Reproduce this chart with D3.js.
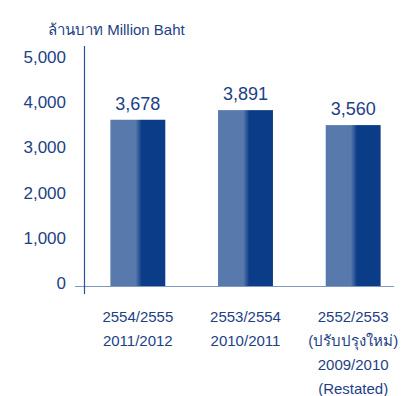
<!DOCTYPE html>
<html>
<head>
<meta charset="utf-8">
<script src="https://cdn.jsdelivr.net/npm/d3@7"></script>
<style>
  body { margin: 0; background: #fff; }
  text { font-family: "Liberation Sans", Arial, "Noto Sans", sans-serif; fill: #1d3f86; }
</style>
</head>
<body>
<div id="main"></div>
<script>
const categories = ["2011/2012", "2010/2011", "2009/2010"];
const values = [3678, 3891, 3560];
const valueLabels = ["3,678", "3,891", "3,560"];
const categoryLines = [
  ["2554/2555", "2011/2012"],
  ["2553/2554", "2010/2011"],
  ["2552/2553", "(ปรับปรุงใหม่)", "2009/2010", "(Restated)"]
];
const yTicks = [0, 1000, 2000, 3000, 4000, 5000];
const unitLabel = "ล้านบาท Million Baht";

const w = 408, h = 396;

const svg = d3.select("#main").append("svg")
  .attr("width", w)
  .attr("height", h);

const defs = svg.append("defs");
const grad = defs.append("linearGradient")
  .attr("id", "barGrad")
  .attr("x1", "0%").attr("x2", "100%")
  .attr("y1", "0%").attr("y2", "0%");
grad.append("stop").attr("offset", "0%").attr("stop-color", "#5879ab");
grad.append("stop").attr("offset", "46%").attr("stop-color", "#5879ab");
grad.append("stop").attr("offset", "57%").attr("stop-color", "#0b3c87");
grad.append("stop").attr("offset", "100%").attr("stop-color", "#0b3c87");

const xScale = d3.scaleBand()
  .domain(categories)
  .range([84, 407])
  .paddingInner(0.49)
  .paddingOuter(0.245);

const yScale = d3.scaleLinear()
  .domain([0, 5000])
  .range([286, 60]);

// y tick labels
const yAxis = d3.axisLeft(yScale)
  .tickValues(yTicks)
  .tickFormat(d3.format(","))
  .tickSize(0)
  .tickPadding(0);

const yg = svg.append("g")
  .attr("transform", "translate(66,-3)")
  .call(yAxis);
yg.select(".domain").remove();
yg.selectAll("text")
  .style("font-size", "17px")
  .attr("fill", "#1d3f86");

// bars
svg.selectAll("rect.bar")
  .data(values)
  .enter()
  .append("rect")
  .attr("class", "bar")
  .attr("x", (d, i) => xScale(categories[i]))
  .attr("y", d => yScale(d))
  .attr("width", xScale.bandwidth())
  .attr("height", d => yScale(0) - yScale(d))
  .attr("fill", "url(#barGrad)");

// axis lines
svg.append("line")
  .attr("x1", 75).attr("x2", 394)
  .attr("y1", yScale(0) + 0.5).attr("y2", yScale(0) + 0.5)
  .attr("stroke", "#7f98c2")
  .attr("stroke-width", 1.2);

svg.append("line")
  .attr("x1", 84.5).attr("x2", 84.5)
  .attr("y1", 46).attr("y2", 294)
  .attr("stroke", "#2c5196")
  .attr("stroke-width", 1.2);

// value labels
svg.selectAll("text.val")
  .data(values)
  .enter()
  .append("text")
  .attr("class", "val")
  .attr("x", (d, i) => xScale(categories[i]) + xScale.bandwidth() / 2)
  .attr("y", d => yScale(d) - 10)
  .attr("text-anchor", "middle")
  .style("font-size", "18px")
  .text((d, i) => valueLabels[i]);

// category labels
categoryLines.forEach((lines, i) => {
  const t = svg.append("text")
    .attr("x", xScale(categories[i]) + xScale.bandwidth() / 2)
    .attr("y", 322)
    .attr("text-anchor", "middle")
    .style("font-size", "15px");
  lines.forEach((ln, j) => {
    t.append("tspan")
      .attr("x", xScale(categories[i]) + xScale.bandwidth() / 2)
      .attr("y", 322 + j * 24)
      .text(ln);
  });
});

// unit label
svg.append("text")
  .attr("x", 48)
  .attr("y", 35)
  .style("font-size", "15px")
  .text(unitLabel);
</script>
</body>
</html>
